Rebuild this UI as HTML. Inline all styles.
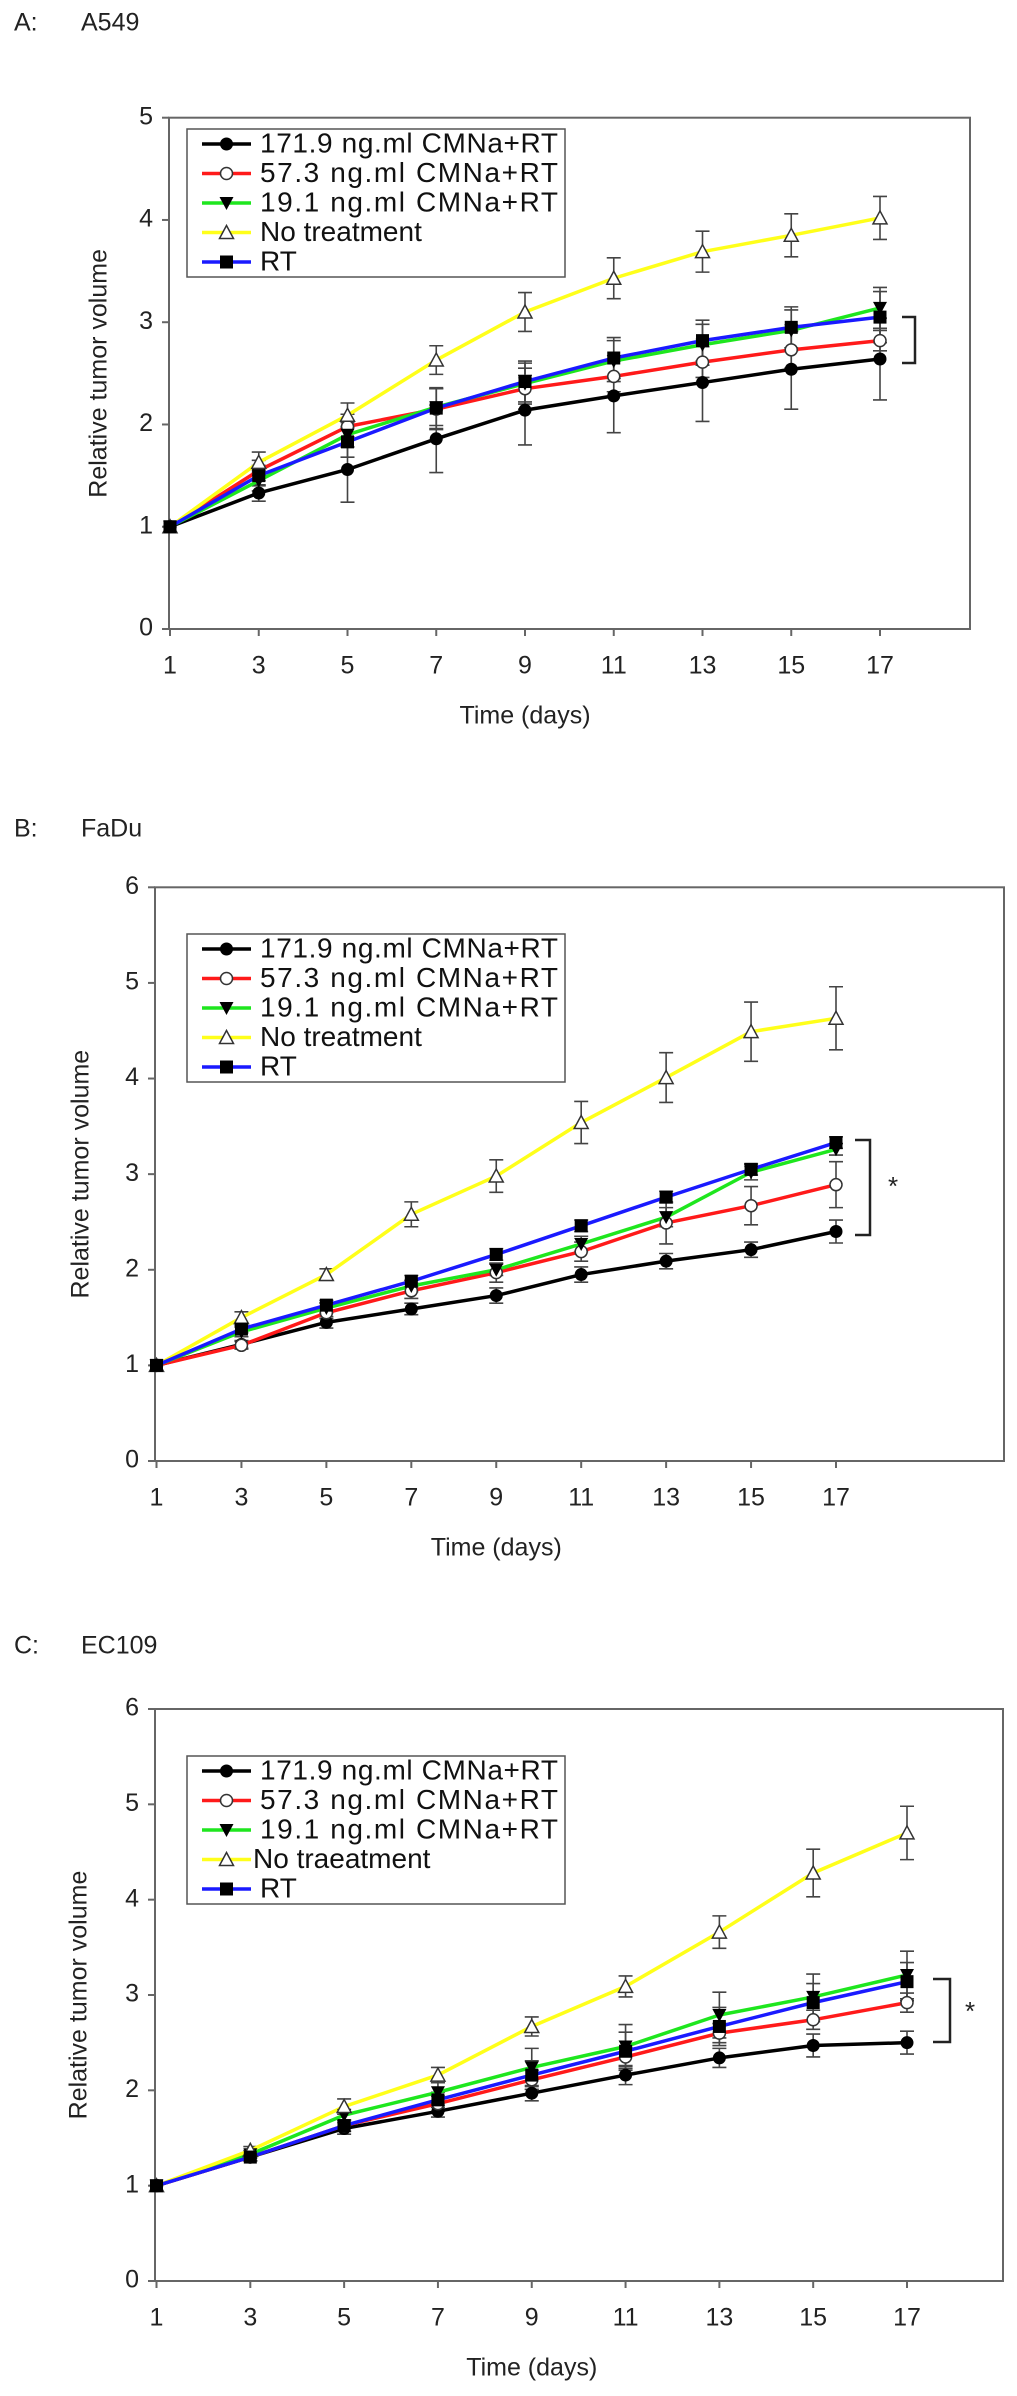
<!DOCTYPE html>
<html><head><meta charset="utf-8">
<style>
html,body{margin:0;padding:0;background:#fff;}
svg{display:block;font-family:"Liberation Sans",Arial,sans-serif;}
</style></head>
<body>
<svg id="fig" width="1017" height="2396" viewBox="0 0 1017 2396" xmlns="http://www.w3.org/2000/svg">
<rect width="1017" height="2396" fill="#fff"/>
</svg>
<script>
const days = [1,3,5,7,9,11,13,15,17];
const seriesNames = ["171.9 ng.ml CMNa+RT","57.3 ng.ml CMNa+RT","19.1 ng.ml CMNa+RT","No treatment","RT"];
const seriesNamesC = ["171.9 ng.ml CMNa+RT","57.3 ng.ml CMNa+RT","19.1 ng.ml CMNa+RT","No traeatment","RT"];
const yTicksA = [0,1,2,3,4,5];
const yTicksBC = [0,1,2,3,4,5,6];

// Panel A (A549)
const aBlack = [1,1.33,1.56,1.86,2.14,2.28,2.41,2.54,2.64];
const aBlackErr = [0,0.08,0.32,0.33,0.34,0.36,0.38,0.39,0.40];
const aRed = [1,1.55,1.98,2.15,2.35,2.47,2.61,2.73,2.82];
const aRedErr = [0,0.1,0.12,0.2,0.2,0.15,0.15,0.18,0.1];
const aGreen = [1,1.45,1.9,2.17,2.4,2.62,2.78,2.92,3.14];
const aGreenErr = [0,0.1,0.12,0.18,0.2,0.2,0.2,0.2,0.2];
const aYellow = [1,1.63,2.09,2.63,3.1,3.43,3.69,3.85,4.02];
const aYellowErr = [0,0.1,0.12,0.14,0.19,0.2,0.2,0.21,0.21];
const aBlue = [1,1.5,1.83,2.16,2.42,2.65,2.82,2.95,3.05];
const aBlueErr = [0,0.1,0.15,0.2,0.2,0.2,0.2,0.2,0.25];

// Panel B (FaDu)
const bBlack = [1,1.22,1.45,1.59,1.73,1.95,2.09,2.21,2.4];
const bBlackErr = [0,0.04,0.06,0.06,0.08,0.08,0.08,0.08,0.12];
const bRed = [1,1.21,1.55,1.78,1.97,2.19,2.49,2.67,2.89];
const bRedErr = [0,0.04,0.06,0.08,0.1,0.1,0.22,0.2,0.24];
const bGreen = [1,1.35,1.6,1.83,2.0,2.27,2.55,3.02,3.26];
const bGreenErr = [0,0.05,0.05,0.06,0.06,0.08,0.1,0.08,0.06];
const bYellow = [1,1.5,1.95,2.58,2.98,3.54,4.01,4.49,4.63];
const bYellowErr = [0,0.06,0.06,0.13,0.17,0.22,0.26,0.31,0.33];
const bBlue = [1,1.38,1.63,1.88,2.16,2.46,2.76,3.05,3.33];
const bBlueErr = [0,0.04,0.05,0.06,0.06,0.06,0.06,0.06,0.06];

// Panel C (EC109)
const cBlack = [1,1.3,1.6,1.78,1.97,2.16,2.34,2.47,2.5];
const cBlackErr = [0,0.04,0.06,0.06,0.08,0.1,0.1,0.12,0.12];
const cRed = [1,1.3,1.63,1.86,2.11,2.35,2.6,2.74,2.92];
const cRedErr = [0,0.04,0.06,0.08,0.1,0.1,0.1,0.1,0.1];
const cGreen = [1,1.33,1.74,1.98,2.24,2.46,2.79,2.98,3.21];
const cGreenErr = [0,0.04,0.06,0.1,0.2,0.23,0.24,0.24,0.25];
const cYellow = [1,1.37,1.83,2.16,2.67,3.09,3.66,4.28,4.7];
const cYellowErr = [0,0.04,0.08,0.08,0.1,0.11,0.17,0.25,0.28];
const cBlue = [1,1.3,1.63,1.9,2.16,2.41,2.67,2.92,3.14];
const cBlueErr = [0,0.04,0.06,0.08,0.15,0.2,0.2,0.2,0.2];

const NS = "http://www.w3.org/2000/svg";
const svg = document.getElementById('fig');
function mk(tag, attrs, parent){
  const e = document.createElementNS(NS, tag);
  for (const k in attrs) e.setAttribute(k, attrs[k]);
  (parent||svg).appendChild(e);
  return e;
}
const colors = ["#000000","#ff1a1a","#1ee61e","#ffff1a","#1a1aff"];
const markers = ["dot","circle","tri-down","tri-up","square"];

function marker(g, type, x, y){
  let m;
  if (type==="dot") m = mk('circle',{cx:x,cy:y,r:6.5,fill:'#000'},g);
  else if (type==="circle") m = mk('circle',{cx:x,cy:y,r:6,fill:'#fff',stroke:'#333','stroke-width':1.5},g);
  else if (type==="tri-down") m = mk('polygon',{points:`${x-7},${y-6} ${x+7},${y-6} ${x},${y+7}`,fill:'#000'},g);
  else if (type==="tri-up") m = mk('polygon',{points:`${x-7},${y+6} ${x+7},${y+6} ${x},${y-7}`,fill:'#fff',stroke:'#333','stroke-width':1.5},g);
  else m = mk('rect',{x:x-6.5,y:y-6.5,width:13,height:13,fill:'#000'},g);
  return m;
}

function panel(cfg){
  const g = mk('g',{});
  
  
  const xs = d => cfg.x1 + (d-1)*(cfg.x17-cfg.x1)/16;
  const ys = v => cfg.bottom - v*(cfg.bottom-cfg.top)/cfg.ymax;
  const lt = mk('text',{x:14,y:cfg.labelY,'font-size':25,fill:'#222','dominant-baseline':'middle'},g);
  lt.textContent = cfg.letter;
  
  
  const ct = mk('text',{x:81,y:cfg.labelY,'font-size':25,fill:'#222','dominant-baseline':'middle'},g);
  ct.textContent = cfg.cell;
  
  
  const fr = mk('rect',{x:cfg.left,y:cfg.top,width:cfg.right-cfg.left,height:cfg.bottom-cfg.top,fill:'none',stroke:'#666','stroke-width':2},g);
  
  
  cfg.yTicks.forEach(t=>{
    const y = ys(t);
    mk('line',{x1:cfg.left-7,y1:y,x2:cfg.left,y2:y,stroke:'#666','stroke-width':2},g);
    const tx = mk('text',{x:cfg.left-16,y:y,'font-size':25,fill:'#222','text-anchor':'end','dominant-baseline':'middle'},g);
    tx.textContent = t;
    
    
  });
  days.forEach(d=>{
    const x = xs(d);
    mk('line',{x1:x,y1:cfg.bottom,x2:x,y2:cfg.bottom+7,stroke:'#666','stroke-width':2},g);
    const tx = mk('text',{x:x,y:cfg.bottom+38,'font-size':25,fill:'#222','text-anchor':'middle','dominant-baseline':'middle'},g);
    tx.textContent = d;
    
    
  });
  const xt = mk('text',{x:(xs(1)+xs(17))/2,y:cfg.bottom+88,'font-size':25,fill:'#222','text-anchor':'middle','dominant-baseline':'middle'},g);
  xt.textContent = 'Time (days)';
  
  
  const yc = (cfg.top+cfg.bottom)/2;
  const yt = mk('text',{x:cfg.ytx,y:yc,'font-size':25,fill:'#222','text-anchor':'middle','dominant-baseline':'middle',transform:`rotate(-90 ${cfg.ytx} ${yc})`},g);
  yt.textContent = 'Relative tumor volume';
  
  
  cfg.series.forEach((s,i)=>{
    s.vals.forEach((v,j)=>{
      const e = s.err[j]; if (!e) return;
      const x = xs(days[j]);
      const eb = mk('path',{d:`M${x},${ys(v-e)}V${ys(v+e)}M${x-7},${ys(v-e)}h14M${x-7},${ys(v+e)}h14`,stroke:'#444','stroke-width':1.6,fill:'none'},g);
      
      
    });
  });
  cfg.series.forEach((s,i)=>{
    const pts = s.vals.map((v,j)=>`${xs(days[j])},${ys(v)}`).join(' ');
    const pl = mk('polyline',{points:pts,fill:'none',stroke:colors[i],'stroke-width':3.5,'stroke-linejoin':'round'},g);
    
    
  });
  cfg.series.forEach((s,i)=>{
    s.vals.forEach((v,j)=>{
      const m = marker(g, markers[i], xs(days[j]), ys(v));
      
      
    });
  });
  const lg = mk('g',{},g);
  
  
  mk('rect',{x:187,y:cfg.legTop,width:378,height:148,fill:'#fff',stroke:'#555','stroke-width':1.5},lg);
  cfg.names.forEach((n,i)=>{
    const y = cfg.legTop + 15 + i*29.5;
    const le = mk('g',{},lg);
    
    
    mk('line',{x1:202,y1:y,x2:251,y2:y,stroke:colors[i],'stroke-width':3.5},le);
    marker(le, markers[i], 226.5, y);
    const t = mk('text',{x:i===3&&cfg.letter==='C:'?253:260,y:y+1,'font-size':28,fill:'#111','dominant-baseline':'middle'},le);
    if (n.indexOf('CMNa')>=0) t.setAttribute('textLength', 298);
    t.textContent = n;
  });
  const b = cfg.bracket;
  const br = mk('path',{d:`M${b[0]},${b[1]}H${b[2]}V${b[3]}H${b[0]}`,fill:'none',stroke:'#222','stroke-width':2.5},g);
  
  
  if (cfg.star){
    const st = mk('text',{x:cfg.star[0],y:cfg.star[1]+8,'font-size':26,fill:'#222','text-anchor':'middle'},g);
    st.textContent='*';
    
    
  }
}

panel({name:'panel-a549',letter:'A:',cell:'A549',labelY:24,left:169,x1:170,x17:880,right:970,top:117.7,bottom:629,ymax:5,yTicks:yTicksA,ytx:100,legTop:129,names:seriesNames,
  series:[{vals:aBlack,err:aBlackErr},{vals:aRed,err:aRedErr},{vals:aGreen,err:aGreenErr},{vals:aYellow,err:aYellowErr},{vals:aBlue,err:aBlueErr}],
  bracket:[902,317,915,363],star:null});
panel({name:'panel-fadu',letter:'B:',cell:'FaDu',labelY:830,left:155,x1:156.5,x17:836,right:1004,top:887.3,bottom:1461,ymax:6,yTicks:yTicksBC,ytx:82,legTop:934,names:seriesNames,
  series:[{vals:bBlack,err:bBlackErr},{vals:bRed,err:bRedErr},{vals:bGreen,err:bGreenErr},{vals:bYellow,err:bYellowErr},{vals:bBlue,err:bBlueErr}],
  bracket:[855,1140,870,1235],star:[893,1187]});
panel({name:'panel-ec109',letter:'C:',cell:'EC109',labelY:1647,left:155,x1:156.5,x17:907,right:1003,top:1709,bottom:2281,ymax:6,yTicks:yTicksBC,ytx:80,legTop:1756,names:seriesNamesC,
  series:[{vals:cBlack,err:cBlackErr},{vals:cRed,err:cRedErr},{vals:cGreen,err:cGreenErr},{vals:cYellow,err:cYellowErr},{vals:cBlue,err:cBlueErr}],
  bracket:[933,1979,950,2042],star:[970,2012]});
</script>
</body></html>
